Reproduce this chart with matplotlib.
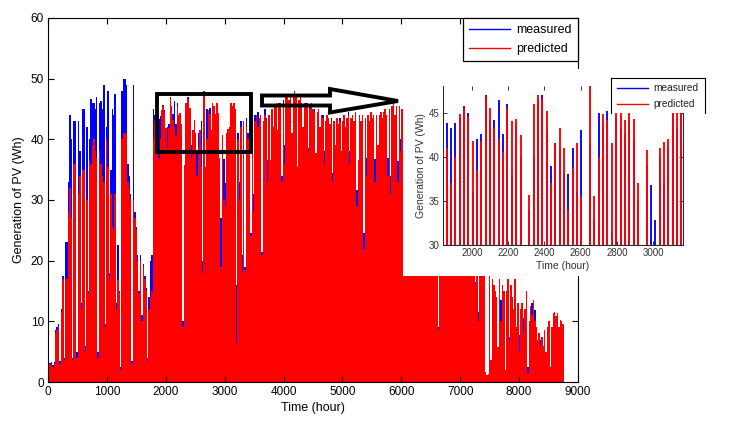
import numpy as np
import matplotlib
matplotlib.use('Agg')
import matplotlib.pyplot as plt
from matplotlib.patches import Rectangle, Polygon
from matplotlib.lines import Line2D

plt.rcParams['font.family'] = ['Liberation Sans', 'DejaVu Sans']

# daily peak generation (Wh), one value per day of the year
predicted = [
    6, 3, 3, 2.5, 3, 8, 8.5, 9, 3, 11.5,
    17, 3.6, 17, 17, 28, 32, 27, 3.6, 36, 36,
    4, 31, 34, 12, 35, 35, 5, 30, 14.5, 36.5,
    36, 39, 40, 38, 37, 4, 38, 36, 34, 33,
    9, 40, 35.5, 17, 31, 25.6, 25, 31, 12, 16.8,
    14.6, 2, 40, 41, 41, 41, 33, 32, 30, 3,
    30, 27, 25, 20, 14.6, 20, 10, 19, 17, 15,
    3.5, 12, 14, 15, 40, 43, 40.8, 41, 37, 40,
    44.8, 45.5, 44.5, 41.8, 38.5, 41.8, 46.7, 45.5, 43.2, 42,
    40.5, 45.5, 44, 44.3, 42.5, 9, 35.7, 46, 47, 46.5,
    45.2, 37, 41.5, 43.2, 41, 34, 38.7, 41.5, 35.5, 18,
    48, 35.5, 40, 44.8, 44.2, 41.6, 46, 45.5, 44.2, 46,
    44.3, 37, 19, 40.7, 30, 29, 41, 41.7, 42, 46,
    45.5, 46, 45, 6.4, 40, 30, 42, 18, 43, 18.5,
    42, 40, 41, 24, 42, 28, 43, 44, 42, 43.5,
    44, 21, 43, 44, 43, 33, 44, 36.6, 45, 42,
    45.5, 46, 41.5, 45.5, 46, 33, 46, 36, 47, 47.5,
    46.5, 47.5, 41, 47, 48, 47, 35.4, 46.5, 47, 46,
    42, 46, 45.5, 46, 38, 45, 46, 45, 44.5, 37.7,
    44.5, 45, 42, 44, 43.5, 36, 43, 44, 43.5, 42.5,
    43, 33, 43, 39, 43.5, 42.5, 43, 38, 43, 44,
    42, 43.5, 44, 36, 43.5, 44, 43, 44.5, 29, 36.6,
    44, 43, 44, 22, 43.5, 34, 44, 43, 44.5, 43.5,
    44, 33, 44, 39, 44, 44.5, 43.5, 44.5, 45, 44,
    34, 45, 31, 45.5, 46, 44, 45.5, 33, 45.5, 38,
    45, 44.5, 45.5, 44, 43, 42, 44, 40, 43, 41,
    30, 42, 43, 40, 41, 38, 42, 40, 35, 41,
    39, 40, 38, 41, 37, 39, 8.6, 38, 37, 35,
    36, 30, 34, 35, 33, 32, 25, 33, 31, 30,
    28, 31, 29, 27, 26, 28, 24, 26, 22, 24,
    20, 22, 16, 20, 10, 19, 21, 18, 19, 1.7,
    1.2, 1.4, 18, 3.6, 17, 16, 15, 14, 5.8, 17,
    10, 16, 15, 2, 15, 17, 6.4, 16, 14, 12,
    17, 9, 13, 5, 12, 13, 8, 12, 15, 1.5,
    10, 12.5, 11, 13.5, 10, 9, 7, 8, 6, 7.5,
    6, 8.6, 5, 9, 10, 2.5, 9, 11.3, 11.6, 10.8,
    11.3, 9, 10.2, 10, 9.5,
]

measured = [
    6.3, 3.2, 3.3, 2.8, 3.3, 8.5, 9, 9.5, 3.5, 12,
    17.5, 4, 23, 23, 33, 44, 40, 4, 43, 43,
    5, 43, 38, 13, 45, 45, 6, 42, 15, 40,
    46.7, 46, 46, 45, 47, 5, 46, 46.4, 45, 49,
    9.5, 42, 48, 18, 35, 45, 44, 47.5, 13, 22.5,
    15, 2.5, 48, 50, 50, 49, 36, 34, 31, 3.5,
    49, 28, 25.5, 21, 15, 21, 11, 19.5, 17.5, 15.5,
    4, 14, 20, 21, 45, 44, 44.5, 43.8, 43.3, 43.8,
    44.4, 45.7, 44.9, 36, 42, 42.6, 47, 44, 44.2, 46.4,
    42.6, 46, 38, 43.5, 40, 10, 34, 40, 46.5, 47,
    43, 39, 41.5, 41, 38, 38, 41, 36, 43, 20,
    41.5, 33, 45, 43.5, 45.2, 31.5, 44.4, 43.2, 42.6, 44,
    42, 35, 27, 39, 36.8, 32.8, 40, 37, 41, 45,
    43, 45, 38.3, 16, 41, 33, 43, 21, 42, 19,
    43.5, 41, 40, 24.5, 43, 31, 44, 43, 44.5, 43,
    44, 21.5, 42.5, 45, 43.5, 36.6, 43.5, 36, 44.5, 41.5,
    45, 45.5, 41, 46, 45, 34, 46.5, 39, 46, 46.5,
    46, 47, 40, 46.5, 47, 46, 35, 46, 46.5, 45.5,
    41.5, 45.5, 46, 45, 38.5, 45.5, 45, 44.5, 45, 37,
    44, 44, 41.5, 43.5, 44, 38, 42.5, 43, 43, 42,
    43.5, 34.4, 42.5, 38.5, 43, 42, 43.5, 37.5, 42.5, 43.5,
    41.5, 43, 44.5, 38, 43, 44, 42.5, 44, 31.6, 36,
    43.5, 43, 43.5, 24.5, 43, 37, 43.5, 43, 44, 43,
    43.5, 36.7, 44, 38.5, 43.5, 44, 43.5, 44, 44.5, 43.5,
    37, 44.5, 34, 45, 45.5, 43.5, 45, 36.5, 45, 40,
    44.5, 45, 45, 44, 43, 42, 44, 40, 43, 41,
    30, 42, 43, 40, 41, 38, 42, 40, 35, 41,
    39, 40, 38, 41, 37, 39, 9, 38, 37, 35,
    36, 30, 34, 35, 33, 32, 25, 33, 31, 30,
    28, 31, 29, 27, 26, 28, 24, 26, 22, 24,
    20, 22, 16.5, 20, 11.6, 19, 21, 18, 19, 1.7,
    1.2, 1.4, 18, 3.6, 17, 16, 15, 14, 5.8, 17,
    13.5, 16, 15, 2, 15, 17, 7.4, 16, 14, 12,
    17, 9, 13, 7.7, 12, 13, 10.5, 12, 15, 2.5,
    10, 12.5, 13, 13.5, 11.9, 9, 7, 8, 7, 7.5,
    6, 8.6, 5, 9, 10, 2.5, 9, 11.3, 11.6, 10.8,
    11.3, 9, 10.2, 10, 9.5,
]

series_labels = ['measured', 'predicted']
main_xticks = list(range(0, 9001, 1000))
main_yticks = list(range(0, 61, 10))
inset_xticks = [2000, 2200, 2400, 2600, 2800, 3000]
inset_yticks = [30, 35, 40, 45]

BLUE = '#0000ff'
RED = '#ff0000'

predicted = np.array(predicted, dtype=float)
measured = np.array(measured, dtype=float)
day = np.arange(len(predicted))
hour_start = day * 24
hour_mid = hour_start + 12

W, H = 736, 423
def fx(px):
    return px / W
def fy(py):
    return 1 - py / H

fig = plt.figure(figsize=(W / 100, H / 100), dpi=100)

# ---------------- main axes ----------------
ax = fig.add_axes([fx(48), fy(382), (578 - 48) / W, (382 - 18) / H])
ax.bar(hour_start, measured, width=24, align='edge', color=BLUE,
       linewidth=0, antialiased=False)
ax.bar(hour_start, predicted, width=24, align='edge', color=RED,
       linewidth=0, antialiased=False)
ax.set_xlim(0, 9000)
ax.set_ylim(0, 60)
ax.set_xticks(main_xticks)
ax.set_yticks(main_yticks)
ax.tick_params(direction='in', top=True, right=True, length=4.5, width=0.8,
               labelsize=8.5, pad=3)
for s in ax.spines.values():
    s.set_linewidth(0.8)
ax.set_xlabel('Time (hour)', fontsize=9, labelpad=3)
ax.set_ylabel('Generation of PV (Wh)', fontsize=9, labelpad=4)

handles = [Line2D([], [], color=BLUE, lw=1), Line2D([], [], color=RED, lw=1)]
leg = ax.legend(handles, series_labels, loc='upper right', fontsize=9,
                frameon=True, fancybox=False, edgecolor='black',
                framealpha=1, borderaxespad=0, handlelength=3.3,
                handletextpad=0.5, borderpad=0.5, labelspacing=0.55)
leg.get_frame().set_linewidth(0.9)

# zoom box around inset region
ax.add_patch(Rectangle((1851, 37.9), 3447 - 1851, 47.5 - 37.9, fill=False,
                       edgecolor='black', linewidth=2.8, zorder=5,
                       clip_on=False))

# hollow arrow pointing to the inset
arrow_px = [(262, 95.5), (330, 95.5), (330, 89), (398, 101),
            (330, 112.5), (330, 105.5), (262, 105.5)]
fig.patches.append(Polygon([(fx(x), fy(y)) for x, y in arrow_px], closed=True,
                           fill=False, edgecolor='black', linewidth=2.8,
                           joinstyle='miter', transform=fig.transFigure,
                           zorder=4))

# white background of the pasted inset
fig.patches.append(Rectangle((fx(403), fy(276)), (W - 403) / W, (276 - 69) / H,
                             transform=fig.transFigure, facecolor='white',
                             edgecolor='none', zorder=5))

# ---------------- inset axes ----------------
axin = fig.add_axes([fx(443), fy(245), (683 - 443) / W, (245 - 86) / H])
axin.set_zorder(6)
axin.vlines(hour_mid, 0, measured, colors=BLUE, linewidth=1.35)
axin.vlines(hour_mid, 0, predicted, colors=RED, linewidth=1.35)
axin.set_xlim(1840, 3165)
axin.set_ylim(30, 48)
axin.set_xticks(inset_xticks)
axin.set_yticks(inset_yticks)
axin.tick_params(direction='in', top=True, right=True, length=3, width=0.7,
                 labelsize=7, pad=2.5, colors='#333333')
for s in axin.spines.values():
    s.set_linewidth(0.7)
    s.set_color('#222222')
axin.spines['top'].set_visible(False)
axin.set_xlabel('Time (hour)', fontsize=7.5, labelpad=1.5, color='#333333')
axin.set_ylabel('Generation of PV (Wh)', fontsize=7.5, labelpad=2, color='#333333')

# inset legend (box open at the bottom, as in the pasted figure)
fig.patches.append(Rectangle((fx(611), fy(113)), (705 - 611) / W, (113 - 78) / H,
                             transform=fig.transFigure, facecolor='white',
                             edgecolor='none', zorder=7))
for xs, ys in [((611, 611), (78, 113)), ((611, 705), (78, 78)), ((705, 705), (78, 113))]:
    fig.lines.append(Line2D([fx(x) for x in xs], [fy(y) for y in ys],
                            color='black', lw=0.8, transform=fig.transFigure,
                            zorder=8))
for (lab, col, py) in [(series_labels[0], BLUE, 88), (series_labels[1], RED, 104)]:
    fig.lines.append(Line2D([fx(617), fx(648)], [fy(py), fy(py)], color=col,
                            lw=1, transform=fig.transFigure, zorder=8))
    fig.text(fx(653), fy(py), lab, fontsize=7.3, va='center', ha='left',
             color='#222222', zorder=8)

fig.savefig('out.png', dpi=100)
